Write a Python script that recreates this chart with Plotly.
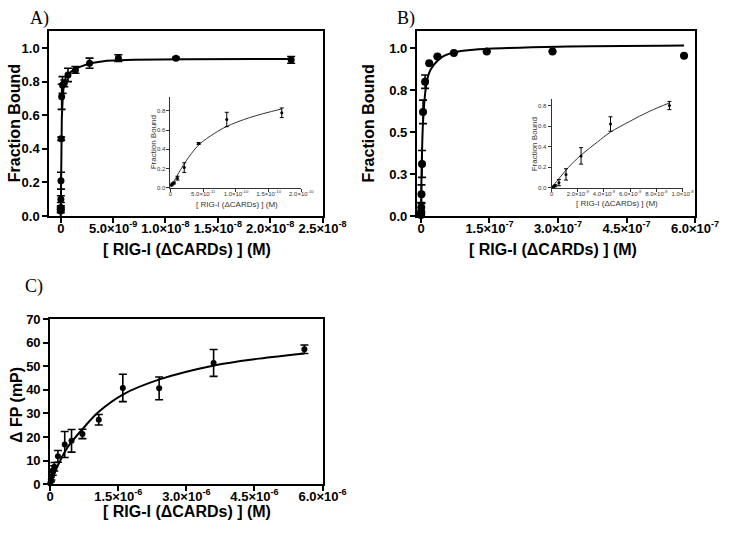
import plotly.graph_objects as go

# === Panel A: fraction bound vs [RIG-I (dCARDs)] ===
a_conc = [1.3e-12, 2.7e-12, 5.4e-12, 1.07e-11, 2.1e-11, 4.3e-11, 8.6e-11, 1.7e-10,
          3.4e-10, 6.9e-10, 1.4e-9, 2.75e-9, 5.5e-9, 1.1e-8, 2.2e-8]
a_frac = [0.03, 0.04, 0.05, 0.10, 0.21, 0.46, 0.71, 0.78,
          0.79, 0.84, 0.87, 0.91, 0.94, 0.94, 0.93]
a_err = [0.01, 0.01, 0.01, 0.02, 0.05, 0.01, 0.075, 0.05,
         0.02, 0.04, 0.02, 0.03, 0.02, 0.005, 0.02]
a_fit_x = [0, 2e-11, 5e-11, 1e-10, 2e-10, 3e-10, 5e-10, 1e-9, 1.7e-9, 2.8e-9,
           4.4e-9, 7e-9, 1.2e-8, 2.2e-8]
a_fit_y = [0, 0.20, 0.40, 0.58, 0.72, 0.78, 0.83, 0.86, 0.885, 0.91,
           0.925, 0.93, 0.933, 0.935]
# inset A (low concentrations, own fit)
ia_fit_x = [0, 1.3e-11, 2.3e-11, 4.3e-11, 6.7e-11, 8.5e-11, 1.21e-10, 1.7e-10]
ia_fit_y = [0, 0.16, 0.27, 0.445, 0.565, 0.635, 0.73, 0.82]
ia_xticks = [0, 5e-11, 1e-10, 1.5e-10, 2e-10]
ia_xtext = ["0", "5.0×10<sup>-11</sup>", "1.0×10<sup>-10</sup>", "1.5×10<sup>-10</sup>", "2.0×10<sup>-10</sup>"]

# === Panel B ===
b_conc = [7e-11, 1.4e-10, 2.8e-10, 5.6e-10, 1.1e-9, 2.25e-9, 4.5e-9, 9e-9,
          1.8e-8, 3.6e-8, 7.2e-8, 1.44e-7, 2.88e-7, 5.76e-7]
b_frac = [0.005, 0.01, 0.02, 0.05, 0.13, 0.31, 0.62, 0.80,
          0.91, 0.95, 0.97, 0.98, 0.98, 0.955]
b_err = [0.005, 0.005, 0.01, 0.03, 0.055, 0.08, 0.07, 0.04,
         0, 0, 0, 0, 0, 0]
b_fit_x = [0, 1.1e-9, 2.25e-9, 4.5e-9, 1.04e-8, 1.74e-8, 2.8e-8, 4.5e-8,
           7.3e-8, 1.15e-7, 1.9e-7, 3.0e-7, 5.76e-7]
b_fit_y = [0, 0.24, 0.38, 0.56, 0.76, 0.85, 0.90, 0.945,
           0.975, 0.99, 1.0, 1.008, 1.015]
ib_fit_x = [0, 6.6e-10, 1.28e-9, 2.27e-9, 3.5e-9, 4.48e-9, 5.96e-9, 7.5e-9, 9e-9]
ib_fit_y = [0, 0.105, 0.198, 0.32, 0.445, 0.54, 0.645, 0.745, 0.825]
ib_xticks = [0, 2e-9, 4e-9, 6e-9, 8e-9, 1e-8]
ib_xtext = ["0", "2.0×10<sup>-9</sup>", "4.0×10<sup>-9</sup>", "6.0×10<sup>-9</sup>",
            "8.0×10<sup>-9</sup>", "1.0×10<sup>-8</sup>"]

# === Panel C: delta FP (mP) ===
c_conc = [0, 1.4e-8, 2.8e-8, 5.6e-8, 9e-8, 1.7e-7, 3.2e-7, 4.7e-7, 7.1e-7,
          1.07e-6, 1.6e-6, 2.4e-6, 3.6e-6, 5.6e-6]
c_fp = [0.4, 2.0, 3.3, 5.8, 7.4, 11.8, 16.8, 18.4, 21.3, 27.3, 40.8, 40.6, 51.4, 57.2]
c_err = [0.8, 1.0, 1.5, 2.0, 1.8, 2.5, 5.5, 4.8, 2.0, 2.2, 5.8, 4.8, 5.7, 1.8]
c_fit_x = [0, 1e-7, 2e-7, 3.9e-7, 7.4e-7, 1.07e-6, 1.6e-6, 2.41e-6, 3.61e-6, 4.6e-6, 5.6e-6]
c_fit_y = [0, 4.9, 9.2, 15.8, 24.0, 30.7, 38.0, 44.4, 50.3, 53.2, 55.4]

a_xticks = [0, 5e-9, 1e-8, 1.5e-8, 2e-8, 2.5e-8]
a_xtext = ["0", "5.0×10<sup>-9</sup>", "1.0×10<sup>-8</sup>", "1.5×10<sup>-8</sup>",
           "2.0×10<sup>-8</sup>", "2.5×10<sup>-8</sup>"]
b_xticks = [0, 1.5e-7, 3e-7, 4.5e-7, 6e-7]
b_xtext = ["0", "1.5×10<sup>-7</sup>", "3.0×10<sup>-7</sup>", "4.5×10<sup>-7</sup>", "6.0×10<sup>-7</sup>"]
b_yticks = [0, 0.25, 0.5, 0.75, 1.0]
b_ytext = ["0.0", "0.3", "0.5", "0.8", "1.0"]
c_xticks = [0, 1.5e-6, 3e-6, 4.5e-6, 6e-6]
c_xtext = ["0", "1.5×10<sup>-6</sup>", "3.0×10<sup>-6</sup>", "4.5×10<sup>-6</sup>", "6.0×10<sup>-6</sup>"]

W, H = 745, 534
SANS = "Liberation Sans, Arial, sans-serif"
SERIF = "Liberation Serif, Times New Roman, serif"


def px(x):
    return x / W


def py(y):
    return 1 - y / H


def points(x, y, err, xa, ya, size, cap=4, thick=1.6):
    return go.Scatter(
        x=x, y=y, xaxis=xa, yaxis=ya, mode="markers",
        marker=dict(color="black", size=size),
        error_y=dict(type="data", array=err, color="black", thickness=thick, width=cap),
        cliponaxis=False, showlegend=False,
    )


def fit(x, y, xa, ya, width=2, shape="spline", color="black"):
    return go.Scatter(
        x=x, y=y, xaxis=xa, yaxis=ya, mode="lines",
        line=dict(color=color, width=width, shape=shape),
        cliponaxis=False, showlegend=False,
    )


fig = go.Figure()

# A main + inset
fig.add_trace(fit(a_fit_x, a_fit_y, "x", "y", shape="linear"))
fig.add_trace(points(a_conc, a_frac, a_err, "x", "y", 7))
ia = [i for i, v in enumerate(a_conc) if v <= 2e-10]
fig.add_trace(fit(ia_fit_x, ia_fit_y, "x2", "y2", width=1, color="#333"))
fig.add_trace(points([a_conc[i] for i in ia], [a_frac[i] for i in ia],
                     [a_err[i] for i in ia], "x2", "y2", 3, cap=2, thick=1))

# B main + inset
fig.add_trace(fit(b_fit_x, b_fit_y, "x3", "y3"))
fig.add_trace(points(b_conc, b_frac, b_err, "x3", "y3", 8))
ib = [i for i, v in enumerate(b_conc) if v <= 1e-8]
fig.add_trace(fit(ib_fit_x, ib_fit_y, "x4", "y4", width=1, color="#333"))
fig.add_trace(points([b_conc[i] for i in ib], [b_frac[i] for i in ib],
                     [b_err[i] for i in ib], "x4", "y4", 3, cap=2, thick=1))

# C
fig.add_trace(fit(c_fit_x, c_fit_y, "x5", "y5"))
fig.add_trace(points(c_conc, c_fp, c_err, "x5", "y5", 6))

main_axis = dict(
    showline=True, linecolor="black", linewidth=2, mirror=True,
    ticks="outside", ticklen=5, tickwidth=2, tickcolor="black",
    showgrid=False, zeroline=False,
    tickfont=dict(family=SANS, size=13, color="black", weight="bold"),
)
main_x = dict(main_axis, tickangle=0, ticklabelstandoff=-6)
inset_axis = dict(
    showline=True, linecolor="#333", linewidth=1, mirror=False,
    ticks="outside", ticklen=3, tickwidth=1, tickcolor="#333",
    showgrid=False, zeroline=False,
    tickfont=dict(family=SANS, size=6, color="#333"),
)
inset_x = dict(inset_axis, tickangle=0, ticklabelstandoff=-3)

fig.update_layout(
    width=W, height=H,
    margin=dict(l=0, r=0, t=0, b=0),
    paper_bgcolor="white", plot_bgcolor="white",
    xaxis=dict(main_x, domain=[px(47), px(331)], range=[-1.1e-9, 2.5e-8],
               tickvals=a_xticks, ticktext=a_xtext, anchor="y"),
    yaxis=dict(main_axis, domain=[py(215), py(25)], range=[0, 1.1],
               tickvals=[0, 0.2, 0.4, 0.6, 0.8, 1.0], tickformat=".1f", anchor="x"),
    xaxis2=dict(inset_x, domain=[px(173), px(309)], range=[0, 2e-10],
                tickvals=ia_xticks, ticktext=ia_xtext, anchor="y2"),
    yaxis2=dict(inset_axis, domain=[py(186), py(93)], range=[0, 0.94],
                tickvals=[0, 0.2, 0.4, 0.6, 0.8], tickformat=".1f", anchor="x2"),
    xaxis3=dict(main_x, domain=[px(429), px(718)], range=[-9e-9, 6.0e-7],
                tickvals=b_xticks, ticktext=b_xtext, anchor="y3"),
    yaxis3=dict(main_axis, domain=[py(215), py(25)], range=[0, 1.1],
                tickvals=b_yticks, ticktext=b_ytext, anchor="x3"),
    xaxis4=dict(inset_x, domain=[px(569), px(705)], range=[0, 1e-8],
                tickvals=ib_xticks, ticktext=ib_xtext, anchor="y4"),
    yaxis4=dict(inset_axis, domain=[py(186), py(95)], range=[0, 0.86],
                tickvals=[0, 0.2, 0.4, 0.6, 0.8], tickformat=".1f", anchor="x4"),
    xaxis5=dict(main_x, domain=[px(48), px(331)], range=[0, 6e-6],
                tickvals=c_xticks, ticktext=c_xtext, anchor="y5"),
    yaxis5=dict(main_axis, domain=[py(491), py(321)], range=[0, 70],
                tickvals=list(range(0, 80, 10)), anchor="x5"),
)

xtitle = "[ RIG-I (ΔCARDs) ] (M)"
labels = [
    # text, x, y, size, angle, bold, family
    ("A)", 37, 12, 18, 0, False, SERIF),
    ("B)", 418, 12, 18, 0, False, SERIF),
    ("C)", 31, 288, 18, 0, False, SERIF),
    ("Fraction Bound", 11, 120, 16, -90, True, SANS),
    (xtitle, 190, 250, 16, 0, True, SANS),
    ("Fraction Bound", 379, 120, 16, -90, True, SANS),
    (xtitle, 570, 250, 16, 0, True, SANS),
    ("Δ FP (mP)", 13, 410, 16, -90, True, SANS),
    (xtitle, 190, 519, 16, 0, True, SANS),
    ("Fraction Bound", 155, 139, 8, -90, False, SANS),
    (xtitle, 242, 203, 8, 0, False, SANS),
    ("Fraction Bound", 551, 141, 8, -90, False, SANS),
    (xtitle, 637, 202, 8, 0, False, SANS),
]
for text, x, y, size, angle, bold, family in labels:
    fig.add_annotation(
        text=text, x=px(x), y=py(y), xref="paper", yref="paper",
        showarrow=False, textangle=angle, xanchor="center", yanchor="middle",
        font=dict(family=family, size=size, color="black" if size > 10 else "#333",
                  weight="bold" if bold else "normal"),
    )

# the page's default body margin would shift the figure
fig.write_html("out.html", config={"displayModeBar": False},
               post_script="document.body.style.margin='0px';")
